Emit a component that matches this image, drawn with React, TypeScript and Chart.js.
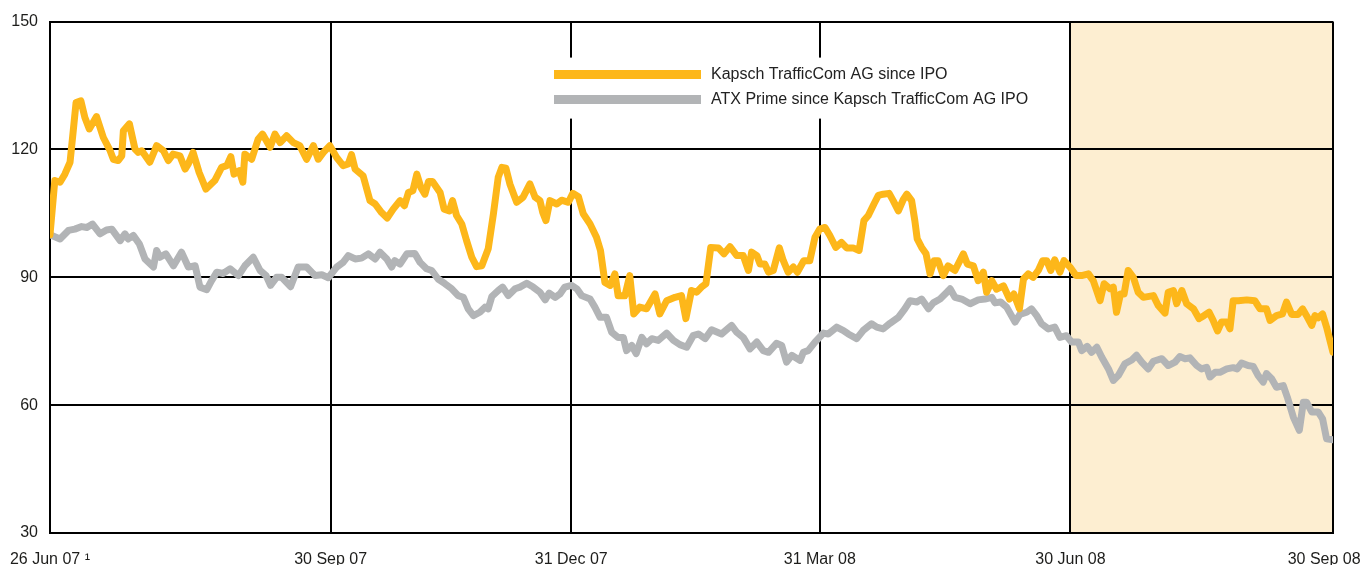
import { useEffect, useRef } from "react";
import { Chart, registerables } from "chart.js";

Chart.register(...registerables);

// x = trading-day index since IPO (26 Jun 07 = 0, 30 Sep 08 = 320)
const tickDays = [0, 70, 130, 192, 254.5, 320];
const tickLabels = ["26 Jun 07 ¹", "30 Sep 07", "31 Dec 07", "31 Mar 08", "30 Jun 08", "30 Sep 08"];
const yMin = 30;
const yMax = 150;
const yStep = 30;
const highlightStart = 254.5;
const highlightEnd = 320;

const kapschLabel = "Kapsch TrafficCom AG since IPO";
const atxLabel = "ATX Prime since Kapsch TrafficCom AG IPO";

const kapschDay = [
  0, 1.2, 2.5, 3.7, 5, 5.8, 6.5, 7.7, 8.7, 9.8,
  11.6, 13.3, 15, 15.8, 17, 17.9, 18.3, 19.8, 21.2, 22,
  22.9, 24.9, 26.6, 28.3, 29.5, 30.7, 32.4, 33.7, 34.5, 35.7,
  37.2, 38.9, 41.1, 42.8, 44.1, 45.1, 45.9, 47.2, 48.1, 48.6,
  50.3, 51.9, 53, 54.9, 56.1, 57.4, 59, 60.7, 62.3, 64,
  65.7, 66.9, 68.2, 69.8, 71.5, 73.1, 74.4, 75.2, 76.1, 78.1,
  79.8, 81.1, 82.7, 84.1, 85.6, 87.3, 88.4, 89.4, 90.5, 91.5,
  92.5, 93.5, 94.4, 95.4, 97.3, 98.3, 99.6, 100.4, 101.4, 102.7,
  103.9, 105.2, 106.4, 107.7, 109.3, 110.6, 111.8, 112.7, 113.7, 114.7,
  116.4, 118, 119.7, 121, 122.2, 122.9, 123.7, 124.7, 126.4, 127.6,
  129.3, 130.4, 131.8, 133, 134.7, 136.3, 137.3, 138.4, 139.7, 140.9,
  141.7, 143.4, 144.6, 145.6, 147.1, 148.8, 150.9, 152.1, 153.8, 155.9,
  157.5, 158.6, 160, 161.3, 162.5, 163.6, 164.8, 166.7, 168.1, 169.6,
  171.3, 172.9, 174.2, 175, 176.3, 177.1, 178.3, 179.2, 180.4, 181.9,
  182.9, 184.1, 185.4, 186.4, 188, 189.5, 190.8, 192, 193.3, 194.5,
  196, 197.4, 198.7, 200.3, 201.8, 203, 204.1, 205.5, 206.6, 207.8,
  209.3, 210.3, 211.6, 212.8, 213.7, 214.9, 215.7, 216.3, 217.4, 218.5,
  219.5, 220.5, 221.5, 222.8, 224, 225.7, 227.8, 228.8, 230.3, 231.5,
  232.8, 233.6, 234.9, 236.1, 237.8, 239.3, 240.4, 241.8, 242.8, 244,
  245.2, 246.5, 247.6, 248.6, 249.6, 250.6, 251.9, 252.9, 254.4, 255.9,
  257.3, 259, 260.2, 261.9, 262.9, 264.4, 265.2, 266, 267, 267.9,
  268.9, 270.2, 271.4, 272.7, 275.2, 276.4, 278.1, 278.9, 280.2, 281,
  282.3, 283.5, 285.2, 286.6, 287.8, 289.1, 290.1, 291.2, 292.2, 293.5,
  294.3, 295.1, 296.4, 298.5, 300.5, 301.8, 303.4, 304.3, 305.9, 307.4,
  308.4, 309.7, 311.3, 312.4, 313.4, 314.7, 315.5, 316.3, 317.4, 318.4,
  320,
];

const kapschValue = [
  100, 112.7, 112.3, 114.2, 117, 124.4, 131, 131.4, 127.5, 124.8,
  127.7, 122.8, 119.7, 117.7, 117.4, 118.5, 124.4, 126, 120.1, 119.3,
  119.7, 117, 120.9, 119.7, 117.4, 118.9, 118.5, 115.4, 116.6, 119.3,
  114.6, 110.7, 112.7, 115.8, 116.2, 118.3, 114.2, 115, 112.3, 118.9,
  117.7, 122.4, 123.6, 120.5, 123.6, 121.6, 123.2, 121.6, 120.9, 117.7,
  120.9, 117.7, 119.3, 120.9, 118.1, 116.2, 116.6, 118.8, 115.4, 113.8,
  108, 107.2, 105.2, 103.9, 106, 108, 106.8, 109.9, 110.3, 114.2,
  111.1, 109.5, 112.5, 112.5, 109.9, 106, 105.6, 108, 104.5, 102.5,
  98.6, 94.7, 92.5, 92.7, 96.7, 104.9, 113.5, 115.8, 115.6, 111.9,
  107.6, 108.8, 111.9, 108.8, 108, 105.2, 103.3, 108, 107.2, 108.1,
  107.6, 109.7, 108.9, 104.9, 102.5, 99.4, 96.3, 88.8, 88.1, 90.8,
  85.7, 85.7, 90.4, 81.4, 83, 82.6, 86.1, 81.4, 84.5, 85.3,
  85.7, 80.3, 86.9, 86.5, 87.7, 88.5, 97, 96.9, 95.5, 97.2,
  95.1, 95.1, 91.6, 95.9, 95.1, 93.1, 93.1, 91.2, 91.6, 96.9,
  93.9, 91.2, 92.4, 91.2, 93.9, 93.9, 99.4, 101.3, 101.7, 99.8,
  97, 98.2, 96.9, 96.9, 96.3, 103.3, 104.5, 107.2, 109.2, 109.5,
  109.7, 108, 105.6, 108.2, 109.5, 108, 103.3, 99, 97, 95.5,
  90.8, 93.9, 93.9, 90.4, 92.7, 91.6, 95.5, 93.1, 92.7, 89.2,
  91.2, 86.5, 89.2, 87.2, 88, 84.9, 86.1, 82.6, 89.6, 90.8,
  90, 91.6, 93.9, 93.9, 91.6, 94.1, 91.2, 93.9, 92.4, 90.4,
  90.4, 90.8, 89.2, 84.5, 88.5, 87.3, 87.7, 81.8, 86.1, 86.1,
  91.6, 90, 86.5, 85.3, 85.7, 83.4, 81.6, 86.5, 86.9, 83.8,
  86.9, 83.8, 82.6, 80.3, 81, 81.8, 79.9, 77.4, 79.5, 79.5,
  77.9, 84.5, 84.5, 84.7, 84.5, 82.6, 82.6, 79.9, 81, 81.4,
  84.2, 81.3, 81.3, 82.6, 81, 78.7, 81, 80.5, 81.4, 78.3,
  72.4,
];

const atxDay = [
  0, 2.5, 4.6, 6.2, 7.9, 9.2, 10.6, 12.5, 14.1, 15.4,
  17.5, 18.7, 19.5, 20.8, 22.3, 23.7, 25.8, 26.6, 27.4, 28.9,
  30.8, 32.8, 34.5, 36.2, 37.4, 39.1, 40.3, 41.6, 43.2, 44.9,
  47, 48.6, 50.7, 52.4, 53.9, 55, 56.5, 57.8, 60, 61.9,
  64, 66.1, 67.8, 69.4, 71.5, 73.1, 74.4, 76.1, 77.7, 79.4,
  81.1, 82.3, 84, 85.2, 86, 87.3, 89, 91, 92.3, 93.9,
  95.2, 96.8, 98.5, 100.2, 101.8, 103.1, 104.3, 105.6, 107.2, 108.5,
  109.3, 110.2, 111.8, 112.9, 114.3, 116, 117.2, 118.9, 120.5, 122.2,
  123.5, 124.5, 126, 127.2, 128.4, 130.1, 131.4, 132.6, 134.7, 135.9,
  137.2, 138.8, 140.1, 141.7, 143, 143.8, 145.1, 146.2, 147.6, 148.8,
  150.1, 151.7, 153.8, 155.5, 157.1, 158.8, 160.4, 161.7, 163.4, 165,
  167.5, 170, 171.3, 172.9, 174.6, 176.3, 177.9, 179.2, 181.2, 182.5,
  183.7, 185, 187.1, 187.9, 189.1, 190.8, 192.9, 194.1, 196.2, 197.9,
  199.1, 201.2, 202.8, 204.9, 206.2, 207.8, 209.5, 211.6, 213.2, 214.5,
  216.2, 217.4, 219.1, 220.3, 222, 223.7, 224.5, 225.7, 227.4, 229.5,
  231.5, 233.2, 234.9, 235.7, 237.1, 238.6, 240.7, 241.9, 243.6, 244.8,
  246.1, 247.3, 249, 250.6, 251.9, 253.5, 254.8, 256.5, 257.3, 258.7,
  259.8, 261.1, 262.3, 264, 265.2, 266.5, 268.1, 269.8, 271, 272.3,
  273.9, 275.2, 277.3, 278.9, 280.6, 281.8, 283.1, 284.3, 286, 287.2,
  288.5, 289.3, 290.6, 291.8, 293.5, 295.1, 296.1, 297.2, 298.8, 300.1,
  301.3, 302.6, 303.4, 304.7, 305.9, 307.6, 308.6, 310.1, 311.6, 312.6,
  313.4, 314.7, 316.3, 317.4, 318.4, 320,
];

const atxValue = [
  100, 99, 101, 101.3, 101.9, 101.7, 102.5, 100.2, 101.1, 101.3,
  98.6, 100.2, 99, 99.8, 97.8, 94.3, 92.4, 96.3, 94.7, 95.5,
  92.7, 95.9, 92.4, 92.7, 87.7, 87.1, 89.2, 91.2, 90.9, 92,
  90.4, 92.7, 94.7, 91.6, 90.4, 88.1, 90, 90, 87.8, 92.4,
  92.4, 90.4, 90.6, 89.9, 92.4, 93.5, 95.1, 94.3, 94.5, 95.5,
  94.3, 95.9, 94.3, 92.4, 93.9, 93.1, 95.5, 95.6, 93.5, 92,
  91.6, 89.6, 88.5, 87.3, 85.7, 85.3, 82.6, 81, 81.8, 83,
  82.6, 85.5, 86.9, 87.7, 85.7, 87.3, 87.7, 88.6, 87.7, 86.5,
  84.7, 86.3, 85.3, 86.1, 87.7, 88.1, 87.3, 85.7, 84.9, 83,
  80.6, 80.6, 77.1, 75.9, 75.9, 72.8, 74, 72.1, 75.9, 74.4,
  75.6, 75.2, 76.9, 75.2, 74.2, 73.6, 76.3, 76.7, 75.6, 77.7,
  76.7, 78.7, 77.1, 75.9, 73.2, 74.8, 72.8, 72.4, 74.5, 74,
  70.1, 71.7, 70.5, 72.4, 72.8, 74.8, 76.9, 76.7, 78.3, 77.5,
  76.7, 75.6, 77.5, 79.1, 78.3, 77.9, 79.2, 80.6, 82.6, 84.5,
  84.2, 84.9, 82.6, 84, 84.9, 86.5, 87.3, 85.3, 84.9, 83.8,
  84.7, 84.9, 85.3, 84, 84.2, 83, 79.5, 81.3, 81.8, 82.6,
  81, 79.1, 77.9, 78.3, 75.9, 76.3, 74.8, 74.8, 72.8, 73.8,
  72.4, 73.6, 71.3, 68.5, 65.8, 67, 69.7, 70.6, 71.7, 70.1,
  68.5, 70.3, 70.9, 69.3, 70.1, 71.4, 70.9, 71.1, 69.3, 68.5,
  68.9, 66.6, 67.7, 67.7, 68.5, 68.8, 68.5, 69.9, 69.3, 69.1,
  67, 65.4, 67.4, 66.2, 64.2, 64.6, 61.9, 57.2, 54.1, 60.7,
  60.7, 58.4, 58.4, 56.8, 52.1, 51.9,
];

const ORANGE = "#FDB71A";
const GREY = "#B2B4B6";
const SHADE = "#FDEED1";
const FONT_FAMILY = "'Liberation Sans', Arial, Helvetica, sans-serif";
const TEXT = "#1d1d1b";

const toPoints = (xs: number[], ys: number[]) => xs.map((x, i) => ({ x, y: ys[i] }));

const decorPlugin = {
  id: "decor",
  beforeDraw(chart: any) {
    const { ctx, chartArea, scales } = chart;
    const x0 = scales.x.getPixelForValue(highlightStart);
    const x1 = scales.x.getPixelForValue(highlightEnd);
    ctx.save();
    ctx.fillStyle = SHADE;
    ctx.fillRect(x0, chartArea.top, x1 - x0, chartArea.bottom - chartArea.top);
    ctx.restore();
  },
  afterDraw(chart: any) {
    const { ctx, chartArea } = chart;
    const left = chartArea.left;
    const top = chartArea.top;
    ctx.save();
    // legend box
    ctx.fillStyle = "#ffffff";
    ctx.fillRect(left + 495, top + 36, 500, 61);
    const items = [
      { label: kapschLabel, color: ORANGE, dy: 53 },
      { label: atxLabel, color: GREY, dy: 78 },
    ];
    ctx.font = `16px ${FONT_FAMILY}`;
    ctx.textBaseline = "middle";
    ctx.textAlign = "left";
    for (const it of items) {
      ctx.strokeStyle = it.color;
      ctx.lineWidth = 9;
      ctx.lineCap = "butt";
      ctx.beginPath();
      ctx.moveTo(left + 504, top + it.dy);
      ctx.lineTo(left + 651, top + it.dy);
      ctx.stroke();
      ctx.fillStyle = "#222222";
      ctx.fillText(it.label, left + 661, top + it.dy);
    }
    ctx.restore();
  },
};

export default function App() {
  const canvasRef = useRef<HTMLCanvasElement | null>(null);

  useEffect(() => {
    const canvas = canvasRef.current;
    if (!canvas) return;
    const chart = new Chart(canvas, {
      type: "line",
      data: {
        datasets: [
          {
            label: kapschLabel,
            data: toPoints(kapschDay, kapschValue),
            borderColor: ORANGE,
            borderWidth: 7,
            pointRadius: 0,
            tension: 0,
            borderJoinStyle: "round",
            borderCapStyle: "round",
            fill: false,
          },
          {
            label: atxLabel,
            data: toPoints(atxDay, atxValue),
            borderColor: GREY,
            borderWidth: 7,
            pointRadius: 0,
            tension: 0,
            borderJoinStyle: "round",
            borderCapStyle: "round",
            fill: false,
          },
        ],
      },
      options: {
        responsive: false,
        animation: false,
        layout: { padding: { top: 21, right: 30, left: 0, bottom: 0 } },
        plugins: {
          legend: { display: false },
          tooltip: { enabled: false },
          title: { display: false },
        },
        scales: {
          x: {
            type: "linear",
            min: 0,
            max: 320,
            afterBuildTicks: (scale: any) => {
              scale.ticks = tickDays.map((v) => ({ value: v }));
            },
            afterFit: (scale: any) => {
              scale.height = 32;
              scale.paddingLeft = 0;
              scale.paddingRight = 0;
            },
            ticks: {
              autoSkip: false,
              maxRotation: 0,
              minRotation: 0,
              padding: 17,
              color: TEXT,
              font: { family: FONT_FAMILY, size: 16 },
              callback: (_v: any, i: number) =>
                i === tickLabels.length - 1 ? tickLabels[i] + "\u00A0\u00A0\u00A0\u00A0" : tickLabels[i],
            },
            grid: { color: "#000000", lineWidth: 2, drawTicks: false },
            border: { display: true, color: "#000000", width: 2 },
          },
          y: {
            min: yMin,
            max: yMax,
            afterFit: (scale: any) => {
              scale.width = 50;
            },
            ticks: {
              stepSize: yStep,
              padding: 12,
              color: TEXT,
              font: { family: FONT_FAMILY, size: 16 },
            },
            grid: { color: "#000000", lineWidth: 2, drawTicks: false },
            border: { display: true, color: "#000000", width: 2 },
          },
        },
      },
      plugins: [decorPlugin],
    });
    return () => chart.destroy();
  }, []);

  return (
    <div style={{ position: "absolute", left: 0, top: 0, width: 1363, height: 565, background: "#fff" }}>
      <canvas ref={canvasRef} width={1363} height={565} style={{ display: "block" }} />
    </div>
  );
}
